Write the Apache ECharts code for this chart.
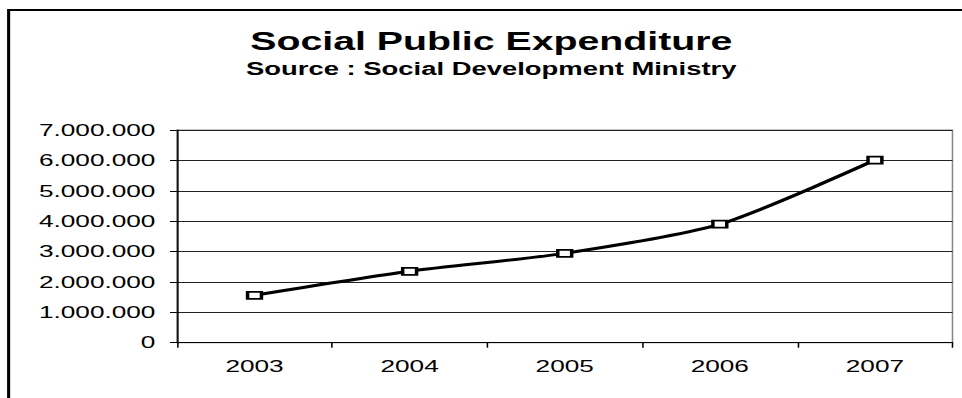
<!DOCTYPE html>
<html>
<head>
<meta charset="utf-8">
<script src="https://cdn.jsdelivr.net/npm/echarts@6/dist/echarts.min.js"></script>
<style>
  html, body { margin: 0; padding: 0; background: #fff; overflow: hidden; }
  #wrap { width: 962px; height: 398px; overflow: hidden; position: relative; }
  /* the chart is laid out narrow and widened horizontally */
  #chart { width: 624.7px; height: 398px; transform: scaleX(1.54); transform-origin: 0 0; }
</style>
</head>
<body>
<div id="wrap"><div id="chart"></div></div>
<script>
const titleText = 'Social Public Expenditure';
const subtitleText = 'Source : Social Development Ministry';
const years = ['2003', '2004', '2005', '2006', '2007'];
const expenditure = [1560000, 2350000, 2940000, 3900000, 6010000];
const yMin = 0;
const yMax = 7000000;
const yStep = 1000000;

const FONT = '"Liberation Sans", Arial, sans-serif';

function dotted(v) {
  return String(Math.round(v)).replace(/\B(?=(\d{3})+(?!\d))/g, '.');
}

const chart = echarts.init(document.getElementById('chart'), null, { renderer: 'svg' });
chart.setOption({
  animation: false,
  backgroundColor: '#fff',
  grid: {
    left: 114.9, right: 6.5, top: 130, bottom: 55.3,
    show: true, borderColor: '#888', borderWidth: 1, backgroundColor: 'transparent'
  },
  graphic: [
    {
      type: 'rect', silent: true,
      shape: { x: 5.6, y: 10, width: 1000, height: 1000 },
      style: { fill: 'none', stroke: '#000', lineWidth: 2 }
    },
    {
      type: 'text', silent: true, x: 319, y: 41,
      style: { text: titleText, font: 'bold 25.5px ' + FONT, fill: '#000', align: 'center', verticalAlign: 'middle' }
    },
    {
      type: 'text', silent: true, x: 319, y: 68.5,
      style: { text: subtitleText, font: 'bold 17.8px ' + FONT, fill: '#000', align: 'center', verticalAlign: 'middle' }
    }
  ],
  xAxis: {
    type: 'category',
    data: years,
    boundaryGap: true,
    axisLine: { show: true, lineStyle: { color: '#000', width: 1 } },
    axisTick: { show: true, alignWithLabel: false, length: 5, lineStyle: { color: '#000' } },
    axisLabel: { color: '#000', fontFamily: FONT, fontSize: 17, margin: 15 },
    splitLine: { show: false }
  },
  yAxis: {
    type: 'value',
    min: yMin, max: yMax, interval: yStep,
    axisLine: { show: true, lineStyle: { color: '#000', width: 1 } },
    axisTick: { show: true, length: 4.5, lineStyle: { color: '#000' } },
    axisLabel: { color: '#000', fontFamily: FONT, fontSize: 17, margin: 14, formatter: dotted },
    splitLine: { show: true, lineStyle: { color: '#222', width: 1 } }
  },
  series: [{
    type: 'line',
    data: expenditure,
    smooth: 0.25,
    symbol: 'rect',
    symbolSize: [9, 7],
    lineStyle: { color: '#000', width: 3 },
    itemStyle: { color: '#fff', borderColor: '#000', borderWidth: 2 },
    z: 5
  }]
});
</script>
</body>
</html>
